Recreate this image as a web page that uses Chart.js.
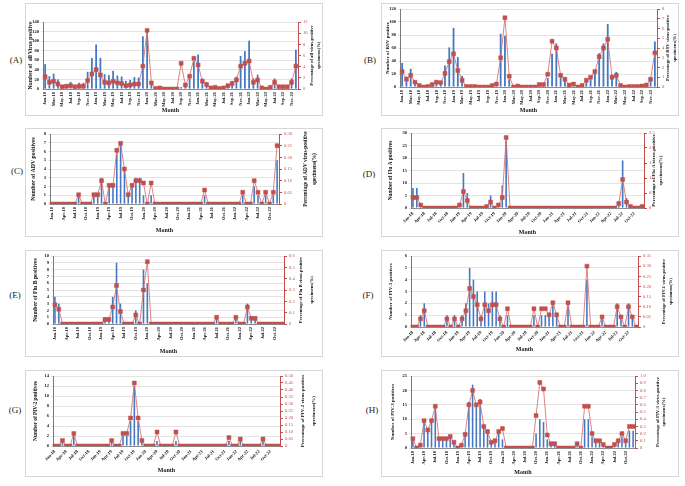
<!DOCTYPE html>
<html><head><meta charset="utf-8">
<script src="https://cdn.jsdelivr.net/npm/chart.js@4.4.1/dist/chart.umd.min.js"></script>
<style>
html,body{margin:0;padding:0;background:#fff;}
body{width:685px;height:486px;position:relative;overflow:hidden;font-family:'Liberation Serif',serif;}
.box{position:absolute;border:1px solid #d6d6d6;box-sizing:border-box;background:#fff;}
.box canvas{position:absolute;left:-1px;top:-1px;}
.lab{position:absolute;font-size:9px;color:#222;transform:translate(-50%,-50%);white-space:nowrap;}
</style></head><body>
<script>
// ---------------- DATA ----------------
const months = [
 'Jan-18','Feb-18','Mar-18','Apr-18','May-18','Jun-18','Jul-18','Aug-18','Sep-18','Oct-18','Nov-18','Dec-18',
 'Jan-19','Feb-19','Mar-19','Apr-19','May-19','Jun-19','Jul-19','Aug-19','Sep-19','Oct-19','Nov-19','Dec-19',
 'Jan-20','Feb-20','Mar-20','Apr-20','May-20','Jun-20','Jul-20','Aug-20','Sep-20','Oct-20','Nov-20','Dec-20',
 'Jan-21','Feb-21','Mar-21','Apr-21','May-21','Jun-21','Jul-21','Aug-21','Sep-21','Oct-21','Nov-21','Dec-21',
 'Jan-22','Feb-22','Mar-22','Apr-22','May-22','Jun-22','Jul-22','Aug-22','Sep-22','Oct-22','Nov-22','Dec-22'];

// (A) all viruses
const allCounts = [
 52,27,32,20,8,10,15,8,13,13,36,65,
 93,65,31,29,38,28,26,17,19,25,24,110,
 120,10,2,2,1,1,1,1,4,8,22,58,
 72,22,14,5,5,3,5,10,17,26,69,79,
 101,22,30,4,2,5,22,6,6,6,22,82];
const allPct = [
 2.2,1.2,1.4,0.9,0.4,0.5,0.6,0.4,0.5,0.5,1.5,2.7,
 3.5,2.5,1.2,1.1,1.4,1.1,1.0,0.6,0.7,0.9,0.9,4.1,
 10.5,1.1,0.1,0.2,0,0,0,0,4.6,0.7,2.3,5.5,
 4.3,1.4,0.8,0.2,0.3,0.1,0.2,0.6,1.0,1.6,4.1,4.6,
 5.0,1.2,1.6,0.2,0,0.3,1.2,0.4,0.4,0.4,1.2,4.1];

// (B) RSV
const rsvCounts = [
 37,16,28,10,3,1,2,4,10,8,33,61,
 91,46,17,2,1,1,1,1,1,2,5,82,
 79,12,0,1,0,0,0,0,2,3,14,51,
 67,18,10,3,4,1,2,8,12,22,52,67,
 97,19,23,2,0,1,1,1,2,3,12,70];
const rsvPct = [
 1.6,0.8,1.2,0.5,0.15,0,0.05,0.25,0.5,0.45,1.4,2.6,
 3.4,1.7,0.7,0.05,0.05,0.05,0,0,0,0.15,0.3,3.0,
 7.1,1.1,0,0.1,0,0,0,0,0.25,0.25,1.3,4.7,
 4.0,1.2,0.8,0.2,0.3,0,0.15,0.7,1.0,1.6,3.1,4.0,
 4.9,1.0,1.2,0.15,0,0.05,0.05,0.05,0.1,0.2,0.8,3.5];

// (C) ADV
const advCounts = [
 0,0,0,0,0,0,0,1,0,0,0,1,
 1,3,0,2,2,6,7,4,1,2,3,3,
 1,0,1,0,0,0,0,0,0,0,0,0,
 0,0,0,0,1,0,0,0,0,0,0,0,
 0,0,1,0,0,2,1,0,1,0,1,5];
const advPct = [
 0,0,0,0,0,0,0,0.04,0,0,0,0.04,
 0.04,0.1,0,0.08,0.08,0.23,0.26,0.15,0.04,0.08,0.1,0.1,
 0.09,0,0.09,0,0,0,0,0,0,0,0,0,
 0,0,0,0,0.06,0,0,0,0,0,0,0,
 0,0,0.05,0,0,0.1,0.05,0,0.05,0,0.05,0.25];

// (D) Flu A
const fluACounts = [
 8,8,1,0,0,0,0,0,0,0,0,0,
 1,14,6,0,0,0,0,1,5,0,2,9,
 27,0,0,0,0,0,0,0,0,0,0,0,
 0,0,0,0,0,0,0,0,0,0,0,0,
 0,0,0,0,0,1,19,4,1,0,0,1];
const fluAPct = [
 0.35,0.35,0.1,0,0,0,0,0,0,0,0,0,
 0.1,0.55,0.25,0,0,0,0,0.05,0.2,0,0.1,0.35,
 2.35,0,0,0,0,0,0,0,0,0,0,0,
 0,0,0,0,0,0,0,0,0,0,0,0,
 0,0,0,0,0,0.15,0.95,0.2,0.05,0,0,0.05];

// (E) Flu B
const fluBCounts = [
 4,3,0,0,0,0,0,0,0,0,0,0,
 0,1,1,4,9,3,0,0,0,2,0,8,
 6,0,0,0,0,0,0,0,0,0,0,0,
 0,0,0,0,0,0,1,0,0,0,0,1,
 0,0,3,1,1,0,0,0,0,0,0,0];
const fluBPct = [
 0.17,0.13,0,0,0,0,0,0,0,0,0,0,
 0,0.04,0.04,0.15,0.34,0.11,0,0,0,0.08,0,0.3,
 0.55,0,0,0,0,0,0,0,0,0,0,0,
 0,0,0,0,0,0,0.06,0,0,0,0,0.06,
 0,0,0.15,0.05,0.05,0,0,0,0,0,0,0];

// (F) PIV-1
const piv1Counts = [
 0,0,1,2,0,0,0,0,0,1,0,1,
 0,1,2,5,4,3,1,3,2,3,3,1,
 0,1,0,0,0,0,0,0,1,0,1,1,
 1,2,1,0,0,2,0,0,0,0,4,0,
 0,0,1,0,0,0,2,1,0,2,1,0];
const piv1Pct = [
 0,0,0.04,0.08,0,0,0,0,0,0.04,0,0.04,
 0,0.04,0.08,0.19,0.15,0.11,0.04,0.11,0.08,0.11,0.11,0.04,
 0,0.09,0,0,0,0,0,0,0.09,0,0.09,0.09,
 0.06,0.12,0.06,0,0,0.12,0,0,0,0,0.3,0,
 0,0,0.05,0,0,0,0.1,0.05,0,0.1,0.05,0];

// (G) PIV-2
const piv2Counts = [
 0,0,1,0,0,2,0,0,0,0,0,0,
 0,0,0,1,0,0,2,2,5,12,5,1,
 0,0,0,1,0,0,0,0,1,0,0,0,
 0,0,0,0,0,0,0,0,0,0,1,0,
 0,1,0,0,0,0,0,1,0,0,0,0];
const piv2Pct = [
 0,0,0.04,0,0,0.09,0,0,0,0,0,0,
 0,0,0,0.04,0,0,0.09,0.09,0.2,0.45,0.2,0.04,
 0,0,0,0.1,0,0,0,0,0.1,0,0,0,
 0,0,0,0,0,0,0,0,0,0,0.06,0,
 0,0.05,0,0,0,0,0,0.05,0,0,0,0];

// (H) PIV-3
const piv3Counts = [
 3,0,1,10,7,10,14,3,3,3,4,2,
 0,1,5,16,22,15,17,8,6,2,3,6,
 3,0,0,0,0,0,0,0,0,5,10,9,
 3,1,1,0,0,0,0,0,1,0,10,10,
 4,2,2,1,0,0,1,2,4,2,6,6];
const piv3Pct = [
 0.13,0,0.04,0.38,0.25,0.38,0.58,0.13,0.13,0.13,0.16,0.08,
 0,0.04,0.19,0.6,0.8,0.6,0.64,0.3,0.23,0.08,0.1,0.23,
 0.27,0,0,0,0,0,0,0,0,0.45,0.91,0.82,
 0.18,0.06,0.06,0,0,0,0,0,0.06,0,0.58,0.58,
 0.2,0.1,0.1,0.05,0,0,0.05,0.1,0.2,0.1,0.3,0.3];

// ---------------- PANELS ----------------
const panels = [
 {tag:'(A)', tagPos:[16,60], counts:allCounts, pct:allPct,
  leftTitle:'Number of  all Virus positive', rightTitle:['Percentage of all virus-positive','specimens(%)'],
  yMax:140, yStep:20, rMax:12, rStep:2, every:2, rot:90,
  box:[25,3,298,113], plot:[43,22,298,89], lx:30, rx:[311,318], my:109, fs:[5.5,4.6]},
 {tag:'(B)', tagPos:[370,60], counts:rsvCounts, pct:rsvPct,
  leftTitle:'Number of RSV positive', rightTitle:['Percentage of RSV virus-positive','specimens(%)'],
  yMax:120, yStep:20, rMax:8, rStep:1, every:2, rot:90,
  box:[381,3,298,113], plot:[400,9,657,87], lx:387, rx:[667,674], my:109, fs:[5,4.7]},
 {tag:'(C)', tagPos:[17,171], counts:advCounts, pct:advPct,
  leftTitle:'Number of ADV positives', rightTitle:['Percentage of ADV virus-positive','specimens(%)'],
  yMax:8, yStep:1, rMax:0.3, rStep:0.05, every:3, rot:90,
  box:[25,128,298,109], plot:[50,134,279,204], lx:33, rx:[305,314], my:229, fs:[5.8,5.3]},
 {tag:'(D)', tagPos:[369,174], counts:fluACounts, pct:fluAPct,
  leftTitle:'Number of Flu A positives', rightTitle:['Percentage of Flu A virus-positive','specimens(%)'],
  yMax:30, yStep:5, rMax:2.5, rStep:0.5, every:3, rot:45,
  box:[381,128,298,109], plot:[411,133,644,208], lx:390, rx:[653,660], my:231, fs:[5.3,5]},
 {tag:'(E)', tagPos:[15,295], counts:fluBCounts, pct:fluBPct,
  leftTitle:'Number of Flu B positives', rightTitle:['Percentage of Flu B virus-positive','specimens(%)'],
  yMax:10, yStep:1, rMax:0.6, rStep:0.1, every:3, rot:90,
  box:[25,250,298,107], plot:[53,256,284,324], lx:35, rx:[300,311], my:350, fs:[5.7,4.6]},
 {tag:'(F)', tagPos:[368,295], counts:piv1Counts, pct:piv1Pct,
  leftTitle:'Number of PIV-1 positives', rightTitle:['Percentage of PIV-1 virus-positive','specimens(%)'],
  yMax:6, yStep:1, rMax:0.35, rStep:0.05, every:3, rot:45,
  box:[381,250,298,107], plot:[411,256,638,327], lx:390, rx:[663,670], my:348, fs:[5,4.5]},
 {tag:'(G)', tagPos:[15,410], counts:piv2Counts, pct:piv2Pct,
  leftTitle:'Number of PIV-2 positives', rightTitle:['Percentage of PIV-2 virus-positive','specimens(%)'],
  yMax:14, yStep:2, rMax:0.5, rStep:0.05, every:3, rot:45,
  box:[25,370,298,107], plot:[53,376,280,446], lx:35, rx:[302,313], my:469, fs:[5.3,5]},
 {tag:'(H)', tagPos:[372,410], counts:piv3Counts, pct:piv3Pct,
  leftTitle:'Number of PIV-3 positives', rightTitle:['Percentage of PIV-3 virus-positive','specimens(%)'],
  yMax:25, yStep:5, rMax:1, rStep:0.1, every:3, rot:90,
  box:[381,370,298,107], plot:[411,376,635,448], lx:392, rx:[657,663], my:471, fs:[5,4.8]}
];

const FONT = "'Liberation Serif', 'Times New Roman', serif";
Chart.defaults.font.family = FONT;

const titlePlugin = {
  id: 'axisTitles',
  afterDraw(chart, args, o) {
    const ctx = chart.ctx, ca = chart.chartArea;
    const cy = (ca.top + ca.bottom) / 2;
    ctx.save();
    ctx.fillStyle = '#111';
    ctx.textAlign = 'center';
    ctx.textBaseline = 'middle';
    ctx.font = 'bold ' + o.fs[0] + 'px ' + FONT;
    ctx.save(); ctx.translate(o.lx, cy); ctx.rotate(-Math.PI / 2); ctx.fillText(o.left, 0, 0); ctx.restore();
    ctx.font = 'bold ' + o.fs[1] + 'px ' + FONT;
    o.right.forEach((t, i) => {
      ctx.save(); ctx.translate(o.rx[i], cy); ctx.rotate(-Math.PI / 2); ctx.fillText(t, 0, 0); ctx.restore();
    });
    ctx.font = 'bold 6px ' + FONT;
    ctx.fillText('Month', (ca.left + ca.right) / 2, o.my);
    ctx.restore();
  }
};

panels.forEach(p => {
  const [bx, by, bw, bh] = p.box;
  const [pl, pt, pr, pb] = p.plot;
  const div = document.createElement('div');
  div.className = 'box';
  div.style.left = bx + 'px'; div.style.top = by + 'px';
  div.style.width = bw + 'px'; div.style.height = bh + 'px';
  const cv = document.createElement('canvas');
  cv.width = bw; cv.height = bh;
  cv.style.width = bw + 'px'; cv.style.height = bh + 'px';
  div.appendChild(cv);
  document.body.appendChild(div);

  const lab = document.createElement('div');
  lab.className = 'lab';
  lab.textContent = p.tag;
  lab.style.left = p.tagPos[0] + 'px'; lab.style.top = p.tagPos[1] + 'px';
  document.body.appendChild(lab);

  const leftW = pl - bx;
  const rightW = bx + bw - pr;
  const topPad = pt - by;
  const xH = by + bh - pb;
  const tickFont = {size: 4.5, weight: 'bold', family: FONT};

  new Chart(cv, {
    type: 'bar',
    data: {
      labels: months,
      datasets: [
        {type: 'line', data: p.pct, yAxisID: 'y1', order: 0,
         borderColor: 'rgba(214,110,108,0.85)', borderWidth: 1, tension: 0,
         pointStyle: 'rect', pointRadius: 2.8, pointBackgroundColor: '#C0504D',
         pointBorderColor: '#C0504D', pointBorderWidth: 0.5},
        {type: 'bar', data: p.counts, yAxisID: 'y', order: 1,
         backgroundColor: '#4677c2', barPercentage: 0.42, categoryPercentage: 1}
      ]
    },
    options: {
      responsive: false, animation: false, devicePixelRatio: 1,
      layout: {padding: {left: 0, right: 0, top: topPad, bottom: 0}},
      plugins: {
        legend: {display: false}, tooltip: {enabled: false},
        axisTitles: {left: p.leftTitle, right: p.rightTitle, lx: p.lx - bx + 1, rx: p.rx.map(v => v - bx + 1), my: p.my - by + 1, fs: p.fs}
      },
      scales: {
        x: {
          grid: {display: false, drawTicks: false},
          border: {color: '#8c8c8c'},
          ticks: {autoSkip: false, minRotation: p.rot, maxRotation: p.rot, padding: 3,
                  color: '#111', font: tickFont,
                  callback: (v, i) => (i % p.every === 0 ? months[i] : '')},
          afterFit: s => { s.height = xH; }
        },
        y: {
          position: 'left', min: 0, max: p.yMax,
          ticks: {stepSize: p.yStep, autoSkip: false, padding: 2, color: '#111', font: tickFont},
          grid: {color: '#dcdcdc', tickLength: 2, lineWidth: 0.8},
          border: {color: '#7a7a7a'},
          afterFit: s => { s.width = leftW; }
        },
        y1: {
          position: 'right', min: 0, max: p.rMax,
          ticks: {stepSize: p.rStep, autoSkip: false, padding: 2, color: '#C0504D', font: {size: 4.6, family: FONT}},
          grid: {drawOnChartArea: false, color: '#C0504D', tickLength: 3},
          border: {color: '#C0504D'},
          afterFit: s => { s.width = rightW; }
        }
      }
    },
    plugins: [titlePlugin]
  });
});
</script>
</body></html>
